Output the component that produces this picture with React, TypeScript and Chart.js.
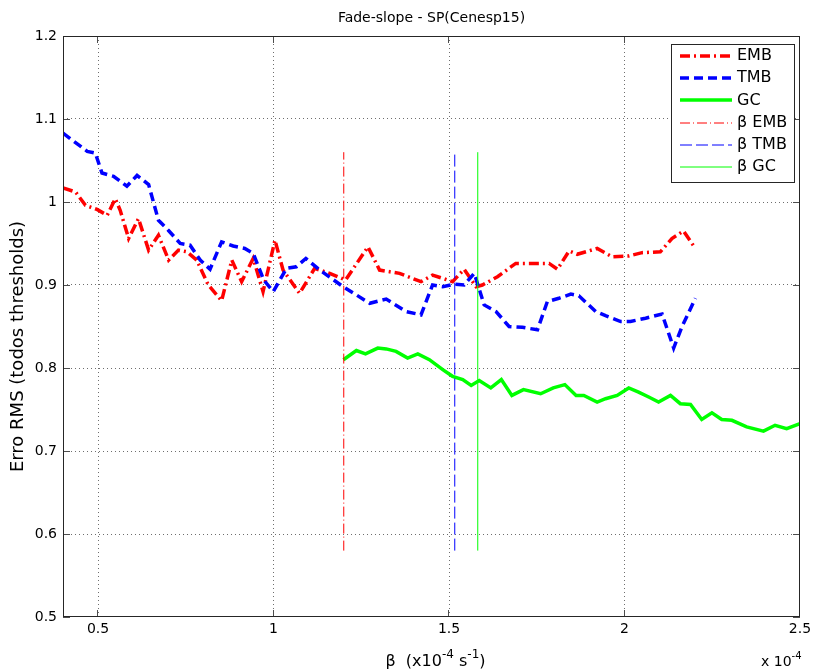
import React, { useEffect, useRef } from "react";
import { Chart, registerables } from "chart.js";

Chart.register(...registerables);

const FONT = "'DejaVu Sans', 'Liberation Sans', sans-serif";

const TITLE = "Fade-slope - SP(Cenesp15)";
const Y_TITLE = "Erro RMS (todos thresholds)";

const X_MIN = 0.4;
const X_MAX = 2.5;
const Y_MIN = 0.5;
const Y_MAX = 1.2;
const X_TICKS = [0.5, 1, 1.5, 2, 2.5];
const X_TICK_LABELS = ["0.5", "1", "1.5", "2", "2.5"];
const Y_TICKS = [0.5, 0.6, 0.7, 0.8, 0.9, 1, 1.1, 1.2];
const Y_TICK_LABELS = ["0.5", "0.6", "0.7", "0.8", "0.9", "1", "1.1", "1.2"];

// EMB error curve
const EMB_X = [
  0.4, 0.436, 0.464, 0.497, 0.526, 0.549, 0.563, 0.587, 0.615, 0.644, 0.672, 0.701, 0.729,
  0.753, 0.781, 0.814, 0.852, 0.881, 0.909, 0.942, 0.97, 1.004, 1.027, 1.074, 1.117, 1.16,
  1.205, 1.269, 1.302, 1.359, 1.42, 1.453, 1.51, 1.543, 1.577, 1.595, 1.638, 1.69, 1.728,
  1.785, 1.809, 1.842, 1.865, 1.922, 1.965, 2.012, 2.05, 2.102, 2.135, 2.168, 2.202,
];
const EMB_Y = [
  1.017, 1.012, 0.996, 0.991, 0.984, 1.004, 0.99, 0.956, 0.98, 0.942, 0.96, 0.93, 0.942,
  0.94, 0.93, 0.9, 0.881, 0.93, 0.904, 0.932, 0.892, 0.954, 0.918, 0.89, 0.92, 0.914,
  0.906, 0.946, 0.918, 0.914, 0.904, 0.912, 0.904, 0.919, 0.898, 0.9, 0.91, 0.926, 0.926,
  0.926, 0.919, 0.941, 0.937, 0.944, 0.934, 0.935, 0.939, 0.94, 0.956, 0.965, 0.944,
];

// TMB error curve
const TMB_X = [
  0.4, 0.469, 0.492, 0.511, 0.544, 0.582, 0.611, 0.644, 0.672, 0.7, 0.734, 0.762, 0.791,
  0.819, 0.852, 0.885, 0.918, 0.942, 0.972, 0.999, 1.037, 1.065, 1.092, 1.132, 1.198, 1.274,
  1.321, 1.378, 1.42, 1.453, 1.482, 1.515, 1.543, 1.572, 1.6, 1.634, 1.671, 1.709, 1.752,
  1.78, 1.813, 1.847, 1.87, 1.918, 1.946, 1.989, 2.017, 2.06, 2.107, 2.14, 2.164, 2.202,
];
const TMB_Y = [
  1.083, 1.061, 1.059, 1.035, 1.031, 1.019, 1.032, 1.021, 0.978, 0.966, 0.95, 0.948, 0.93,
  0.919, 0.952, 0.947, 0.944, 0.938, 0.906, 0.892, 0.92, 0.922, 0.932, 0.918, 0.898, 0.878,
  0.883, 0.868, 0.864, 0.9, 0.898, 0.901, 0.9, 0.914, 0.876, 0.868, 0.85, 0.849, 0.846,
  0.88, 0.884, 0.889, 0.887, 0.868, 0.863, 0.856, 0.856, 0.86, 0.865, 0.824, 0.85, 0.884,
];

// GC error curve
const GC_X = [
  1.199, 1.236, 1.262, 1.297, 1.321, 1.349, 1.382, 1.411, 1.444, 1.482, 1.51, 1.539, 1.563,
  1.586, 1.619, 1.649, 1.679, 1.712, 1.761, 1.797, 1.83, 1.862, 1.884, 1.922, 1.946, 1.979,
  2.012, 2.04, 2.069, 2.097, 2.131, 2.159, 2.188, 2.22, 2.249, 2.277, 2.306, 2.348, 2.396,
  2.429, 2.462, 2.5,
];
const GC_Y = [
  0.81, 0.821, 0.817, 0.824, 0.823, 0.82, 0.812, 0.817, 0.81, 0.798, 0.79, 0.786, 0.779,
  0.785, 0.776, 0.786, 0.767, 0.774, 0.769, 0.776, 0.78, 0.767, 0.767, 0.759, 0.763, 0.767,
  0.776, 0.771, 0.765, 0.759, 0.767, 0.757, 0.756, 0.738, 0.746, 0.738, 0.737, 0.729, 0.724,
  0.731, 0.727, 0.733,
];

// Chosen beta for each method, drawn as vertical markers
const BETA_EMB = 1.2;
const BETA_TMB = 1.515;
const BETA_GC = 1.58;
const BETA_SPAN = [0.58, 1.06];

const RED = "#ff0000";
const BLUE = "#0000ff";
const GREEN = "#00ff00";

const pairs = (xs: number[], ys: number[]) => xs.map((x, i) => ({ x, y: ys[i] }));
const vline = (b: number) => BETA_SPAN.map((y) => ({ x: b, y }));

type Run = { text: string; sup?: boolean };

function drawRuns(
  ctx: CanvasRenderingContext2D,
  runs: Run[],
  x: number,
  y: number,
  align: "center" | "left",
  size: number
) {
  const big = `${size}px ${FONT}`;
  const small = `${Math.round(size * 0.72)}px ${FONT}`;
  const widths = runs.map((r) => {
    ctx.font = r.sup ? small : big;
    return ctx.measureText(r.text).width;
  });
  const total = widths.reduce((a, b) => a + b, 0);
  let cx = align === "center" ? x - total / 2 : x;
  ctx.textAlign = "left";
  ctx.textBaseline = "middle";
  runs.forEach((r, i) => {
    ctx.font = r.sup ? small : big;
    ctx.fillText(r.text, cx, r.sup ? y - size * 0.42 : y);
    cx += widths[i];
  });
}

// Thin vertical markers are nudged so most of their ink falls in one pixel column.
const nudgeVertical = {
  id: "nudgeVertical",
  beforeDatasetDraw(chart: any, args: any) {
    const ds = chart.data.datasets[args.index];
    if (!ds.isMarker) return;
    const px = chart.scales.x.getPixelForValue(ds.data[0].x);
    const shift = Math.floor(px) + 0.75 - px;
    chart.ctx.save();
    chart.ctx.translate(shift, 0);
  },
  afterDatasetDraw(chart: any, args: any) {
    const ds = chart.data.datasets[args.index];
    if (!ds.isMarker) return;
    chart.ctx.restore();
  },
};

const framePlugin = {
  id: "matlabFrame",
  afterDatasetsDraw(chart: any) {
    const { ctx, chartArea: a, scales } = chart;
    ctx.save();
    // inward tick marks on all four sides
    ctx.strokeStyle = "#4d4d4d";
    ctx.lineWidth = 1;
    ctx.setLineDash([]);
    const tl = 7;
    ctx.beginPath();
    X_TICKS.forEach((v) => {
      const px = Math.round(scales.x.getPixelForValue(v)) - 0.5;
      ctx.moveTo(px, a.bottom);
      ctx.lineTo(px, a.bottom - tl);
      ctx.moveTo(px, a.top);
      ctx.lineTo(px, a.top + tl);
    });
    Y_TICKS.forEach((v) => {
      const py = Math.round(scales.y.getPixelForValue(v)) + 0.5;
      ctx.moveTo(a.left, py);
      ctx.lineTo(a.left + tl, py);
      ctx.moveTo(a.right, py);
      ctx.lineTo(a.right - tl, py);
    });
    ctx.stroke();
    // axes box
    ctx.strokeStyle = "#262626";
    ctx.strokeRect(a.left + 0.5, a.top + 0.5, a.right - a.left - 1, a.bottom - a.top - 1);
    ctx.restore();
  },
  afterDraw(chart: any) {
    const { ctx, chartArea: a } = chart;
    ctx.save();
    ctx.fillStyle = "#000";
    const cx = (a.left + a.right) / 2;
    // title
    drawRuns(ctx, [{ text: TITLE }], cx, 18, "center", 14);
    // x-axis title
    drawRuns(
      ctx,
      [{ text: "β  (x10" }, { text: "-4", sup: true }, { text: " s" }, { text: "-1", sup: true }, { text: ")" }],
      cx + 4,
      662,
      "center",
      16
    );
    // exponent note under the right end of the x axis
    drawRuns(ctx, [{ text: "x 10" }, { text: "-4", sup: true }], a.right - 39, 662, "left", 14);
    // y-axis title
    ctx.save();
    ctx.translate(18, (a.top + a.bottom) / 2 + 20);
    ctx.rotate(-Math.PI / 2);
    drawRuns(ctx, [{ text: Y_TITLE }], 0, 0, "center", 18);
    ctx.restore();

    // legend box
    const bx = a.right - 129;
    const by = a.top + 8;
    const bw = 124;
    const bh = 139;
    ctx.fillStyle = "#ffffff";
    ctx.fillRect(bx, by, bw, bh);
    ctx.strokeStyle = "#262626";
    ctx.lineWidth = 1;
    ctx.setLineDash([]);
    ctx.strokeRect(bx + 0.5, by + 0.5, bw - 1, bh - 1);
    const datasets = chart.data.datasets;
    datasets.forEach((ds: any, i: number) => {
      const ry = by + 12 + i * 22.2;
      ctx.strokeStyle = ds.borderColor;
      ctx.lineWidth = ds.borderWidth;
      ctx.setLineDash(ds.borderDash || []);
      ctx.lineCap = "butt";
      ctx.beginPath();
      ctx.moveTo(bx + 9, Math.round(ry));
      ctx.lineTo(bx + 61, Math.round(ry));
      ctx.stroke();
      ctx.setLineDash([]);
      ctx.fillStyle = "#000";
      drawRuns(ctx, [{ text: ds.label }], bx + 66, ry, "left", 16);
    });
    ctx.restore();
  },
};

export default function App() {
  const canvasRef = useRef<HTMLCanvasElement | null>(null);

  useEffect(() => {
    document.body.style.margin = "0";
    const canvas = canvasRef.current;
    if (!canvas) return;

    const line = (
      label: string,
      data: any[],
      color: string,
      width: number,
      dash: number[],
      order: number,
      isMarker = false
    ) => ({
      label,
      data,
      borderColor: color,
      backgroundColor: color,
      borderWidth: width,
      borderDash: dash,
      pointRadius: 0,
      pointHoverRadius: 0,
      tension: 0,
      fill: false,
      order,
      isMarker,
    });

    const gridColor = (c: any) =>
      c.tick && (c.tick.value === c.scale.min || c.tick.value === c.scale.max) ? "rgba(0,0,0,0)" : "#6e6e6e";

    const chart = new Chart(canvas, {
      type: "line",
      data: {
        datasets: [
          line("EMB", pairs(EMB_X, EMB_Y), RED, 3.5, [10, 4, 2, 4], 5),
          line("TMB", pairs(TMB_X, TMB_Y), BLUE, 3.5, [9, 5], 4),
          line("GC", pairs(GC_X, GC_Y), GREEN, 3.5, [], 3),
          line("β EMB", vline(BETA_EMB), RED, 1, [10, 3, 1, 3], 2, true),
          line("β TMB", vline(BETA_TMB), BLUE, 1, [12, 4], 1, true),
          line("β GC", vline(BETA_GC), GREEN, 1, [], 0, true),
        ],
      },
      options: {
        animation: false,
        responsive: true,
        maintainAspectRatio: false,
        events: [],
        layout: { padding: { left: 0, top: 36, right: 16, bottom: 0 } },
        plugins: {
          legend: { display: false },
          title: { display: false },
          tooltip: { enabled: false },
        },
        scales: {
          x: {
            type: "linear",
            min: X_MIN,
            max: X_MAX,
            afterBuildTicks: (s: any) => {
              s.ticks = X_TICKS.map((value) => ({ value }));
            },
            afterFit: (s: any) => {
              s.height = 55;
            },
            ticks: {
              autoSkip: false,
              maxRotation: 0,
              padding: 4,
              color: "#000",
              font: { family: FONT, size: 14 },
              callback: (v: any) => X_TICK_LABELS[X_TICKS.indexOf(Number(v))],
            },
            grid: { drawTicks: false, color: gridColor, lineWidth: 1 },
            border: { display: false, dash: [1, 3] },
          },
          y: {
            type: "linear",
            min: Y_MIN,
            max: Y_MAX,
            afterBuildTicks: (s: any) => {
              s.ticks = Y_TICKS.map((value) => ({ value }));
            },
            afterFit: (s: any) => {
              s.width = 63;
            },
            ticks: {
              autoSkip: false,
              padding: 6,
              color: "#000",
              font: { family: FONT, size: 14 },
              callback: (v: any) => Y_TICK_LABELS[Y_TICKS.indexOf(Number(v))],
            },
            grid: { drawTicks: false, color: gridColor, lineWidth: 1 },
            border: { display: false, dash: [1, 3] },
          },
        },
      },
      plugins: [nudgeVertical, framePlugin],
    } as any);

    return () => chart.destroy();
  }, []);

  return (
    <div style={{ position: "relative", width: 816, height: 672, background: "#fff" }}>
      <canvas ref={canvasRef} />
    </div>
  );
}
